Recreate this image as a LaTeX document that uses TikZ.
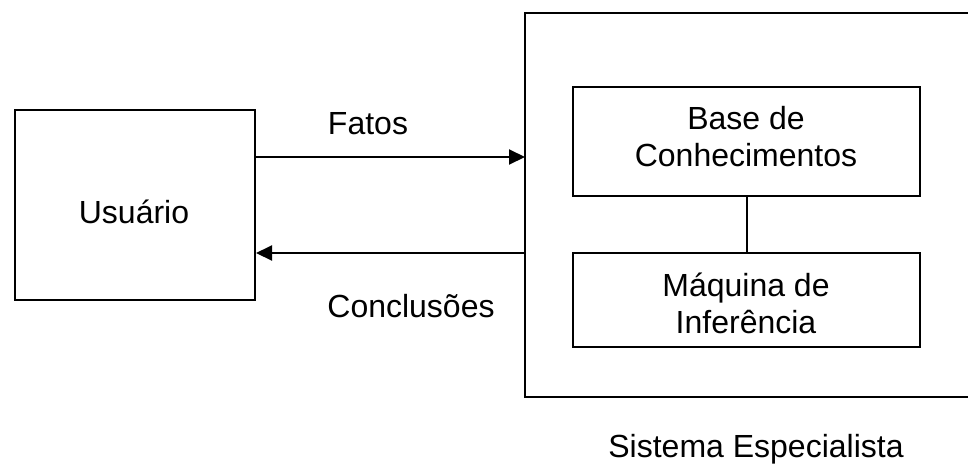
\documentclass[tikz,border=0pt]{standalone}
\usepackage{fontspec}
\setmainfont{Liberation Sans}
\usetikzlibrary{arrows.meta}
\begin{document}
\begin{tikzpicture}[x=1pt,y=-1pt,
  every node/.style={font=\fontsize{32}{37}\selectfont, align=center, inner sep=0pt},
  box/.style={draw, line width=2pt},
  link/.style={line width=2pt},
  flow/.style={line width=2pt, -{Triangle[length=16pt,width=15pt]}}]
  \useasboundingbox (0,0) rectangle (968,469);
  % user and expert system frames
  \node[box, minimum width=240pt, minimum height=190pt] (user) at (135,205) {};
  \node at (134,212) {Usuário};
  \node[box, minimum width=452pt, minimum height=384pt] (sysbox) at (751,205) {};
  % inner components
  \node[box, minimum width=347pt, minimum height=109pt] (kb) at (746.5,141.5) {};
  \node at (746,137) {Base de\\Conhecimentos};
  \node[box, minimum width=347pt, minimum height=94pt] (ie) at (746.5,300) {};
  \node at (746,303) {Máquina de\\Inferência};
  \draw[link] (kb.south) -- (ie.north);
  % information flow
  \coordinate (sin) at (525,157);
  \coordinate (sout) at (525,253);
  \draw[flow] (user.east |- sin) -- (sin);
  \draw[flow] (sout) -- (user.east |- sout);
  \node (fatos) at (368,124) {Fatos};
  \node (concl) at (411,306) {Conclusões};
  \node (sys) at (756,449) {Sistema Especialista};
\end{tikzpicture}
\end{document}
